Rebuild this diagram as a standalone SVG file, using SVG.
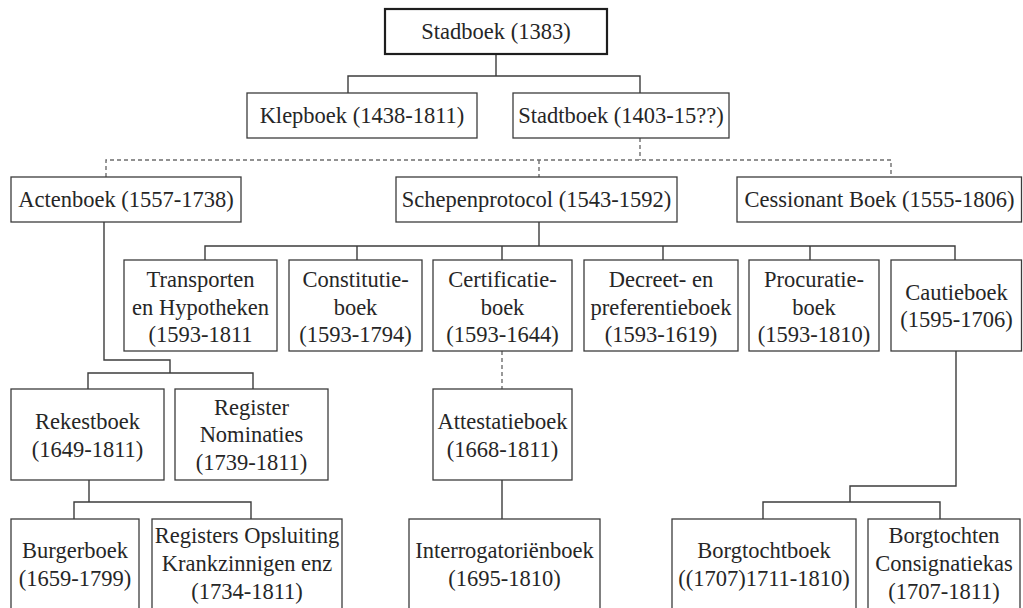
<svg xmlns="http://www.w3.org/2000/svg" width="1023" height="608" viewBox="0 0 1023 608">
  <style>
    .box { fill: #ffffff; stroke: #3c3c3c; stroke-width: 1.3; }
    .root { fill: #ffffff; stroke: #1e1e1e; stroke-width: 2.2; }
    .lbl { font-family: "Liberation Serif", "DejaVu Serif", serif; font-size: 22.5px; fill: #262626; text-anchor: middle; }
    .solid { fill: none; stroke: #3c3c3c; stroke-width: 1.4; }
    .dash { fill: none; stroke: #6e6e6e; stroke-width: 1.4; stroke-dasharray: 4 3; }
  </style>
  <rect width="1023" height="608" fill="#ffffff"/>

  <!-- connectors -->
  <g id="connectors">
    <path class="solid" d="M496 54 V76 M348 93 V76 H640 V93"/>
    <path class="dash" d="M640 138 V160 M106 177 V160 H891 V177 M539 160 V177"/>
    <path class="solid" d="M539 222 V246 M205 260 V246 H955 V260 M357 246 V260 M502 246 V260 M663 246 V260 M810 246 V260"/>
    <path class="solid" d="M104 222 V360 H170 V373 M88 389 V373 H253 V389"/>
    <path class="dash" d="M502 351 V389"/>
    <path class="solid" d="M89 480 V502 M74 519 V502 H251 V519"/>
    <path class="solid" d="M502 480 V519"/>
    <path class="solid" d="M956 351 V486 H850 V502 M763 519 V502 H940 V519"/>
  </g>

  <!-- level 0 -->
  <g id="stadboek">
    <rect class="root" x="385" y="9" width="222" height="45"/>
    <text class="lbl" x="496" y="39">Stadboek (1383)</text>
  </g>

  <!-- level 1 -->
  <g id="klepboek">
    <rect class="box" x="247" y="93" width="230" height="45"/>
    <text class="lbl" x="362" y="123">Klepboek (1438-1811)</text>
  </g>
  <g id="stadtboek">
    <rect class="box" x="513" y="93" width="216" height="45"/>
    <text class="lbl" x="621" y="123">Stadtboek (1403-15??)</text>
  </g>

  <!-- level 2 -->
  <g id="actenboek">
    <rect class="box" x="11" y="177" width="230" height="45"/>
    <text class="lbl" x="126" y="207">Actenboek (1557-1738)</text>
  </g>
  <g id="schepenprotocol">
    <rect class="box" x="396" y="177" width="281" height="45"/>
    <text class="lbl" x="536.5" y="207">Schepenprotocol (1543-1592)</text>
  </g>
  <g id="cessionant">
    <rect class="box" x="737" y="177" width="284.5" height="45"/>
    <text class="lbl" x="879.5" y="207">Cessionant Boek (1555-1806)</text>
  </g>

  <!-- level 3 -->
  <g id="transporten">
    <rect class="box" x="124" y="260" width="153" height="91"/>
    <text class="lbl" x="200.5" y="287">Transporten</text>
    <text class="lbl" x="200.5" y="315">en Hypotheken</text>
    <text class="lbl" x="200.5" y="342">(1593-1811</text>
  </g>
  <g id="constitutie">
    <rect class="box" x="289" y="260" width="133" height="91"/>
    <text class="lbl" x="355.5" y="287">Constitutie-</text>
    <text class="lbl" x="355.5" y="315">boek</text>
    <text class="lbl" x="355.5" y="342">(1593-1794)</text>
  </g>
  <g id="certificatie">
    <rect class="box" x="433" y="260" width="139" height="91"/>
    <text class="lbl" x="502.5" y="287">Certificatie-</text>
    <text class="lbl" x="502.5" y="315">boek</text>
    <text class="lbl" x="502.5" y="342">(1593-1644)</text>
  </g>
  <g id="decreet">
    <rect class="box" x="584" y="260" width="154" height="91"/>
    <text class="lbl" x="661" y="287">Decreet- en</text>
    <text class="lbl" x="661" y="315">preferentieboek</text>
    <text class="lbl" x="661" y="342">(1593-1619)</text>
  </g>
  <g id="procuratie">
    <rect class="box" x="749" y="260" width="130" height="91"/>
    <text class="lbl" x="814" y="287">Procuratie-</text>
    <text class="lbl" x="814" y="315">boek</text>
    <text class="lbl" x="814" y="342">(1593-1810)</text>
  </g>
  <g id="cautieboek">
    <rect class="box" x="891" y="260" width="130.5" height="91"/>
    <text class="lbl" x="956.5" y="300">Cautieboek</text>
    <text class="lbl" x="956.5" y="327">(1595-1706)</text>
  </g>

  <!-- level 4 -->
  <g id="rekestboek">
    <rect class="box" x="11" y="389" width="153" height="91"/>
    <text class="lbl" x="87.5" y="429">Rekestboek</text>
    <text class="lbl" x="87.5" y="457">(1649-1811)</text>
  </g>
  <g id="register-nominaties">
    <rect class="box" x="175" y="389" width="153" height="91"/>
    <text class="lbl" x="251.5" y="415">Register</text>
    <text class="lbl" x="251.5" y="442">Nominaties</text>
    <text class="lbl" x="251.5" y="470">(1739-1811)</text>
  </g>
  <g id="attestatieboek">
    <rect class="box" x="433" y="389" width="139" height="91"/>
    <text class="lbl" x="502.5" y="429">Attestatieboek</text>
    <text class="lbl" x="502.5" y="457">(1668-1811)</text>
  </g>

  <!-- level 5 -->
  <g id="burgerboek">
    <rect class="box" x="11" y="519" width="128" height="93"/>
    <text class="lbl" x="75" y="558">Burgerboek</text>
    <text class="lbl" x="75" y="586">(1659-1799)</text>
  </g>
  <g id="registers-opsluiting">
    <rect class="box" x="152" y="519" width="190" height="93"/>
    <text class="lbl" x="247" y="543">Registers Opsluiting</text>
    <text class="lbl" x="247" y="571">Krankzinnigen enz</text>
    <text class="lbl" x="247" y="599">(1734-1811)</text>
  </g>
  <g id="interrogatorienboek">
    <rect class="box" x="409" y="519" width="191" height="93"/>
    <text class="lbl" x="504.5" y="558">Interrogatoriënboek</text>
    <text class="lbl" x="504.5" y="586">(1695-1810)</text>
  </g>
  <g id="borgtochtboek">
    <rect class="box" x="672" y="519" width="184" height="93"/>
    <text class="lbl" x="764" y="558">Borgtochtboek</text>
    <text class="lbl" x="764" y="586">((1707)1711-1810)</text>
  </g>
  <g id="borgtochten-consignatiekas">
    <rect class="box" x="868" y="519" width="152" height="93"/>
    <text class="lbl" x="944" y="543">Borgtochten</text>
    <text class="lbl" x="944" y="571">Consignatiekas</text>
    <text class="lbl" x="944" y="599">(1707-1811)</text>
  </g>
</svg>
